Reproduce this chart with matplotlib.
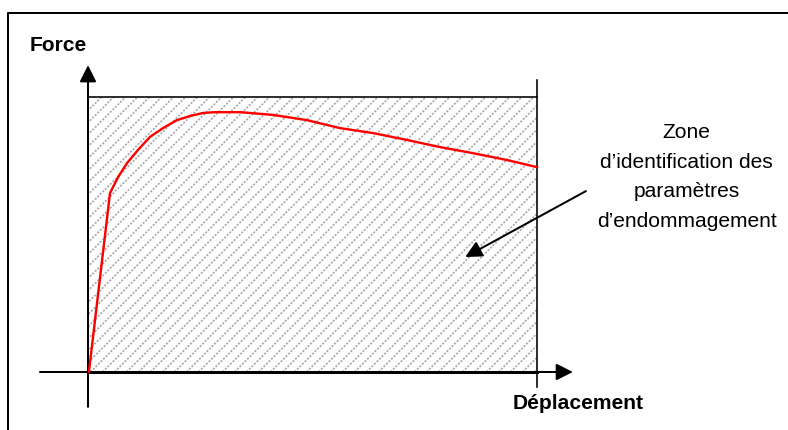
import numpy as np
import matplotlib.pyplot as plt
from matplotlib.patches import Rectangle
from matplotlib.lines import Line2D
from matplotlib.collections import LineCollection

plt.rcParams['font.family'] = ['Liberation Sans', 'DejaVu Sans']

# force-displacement curve, normalised to the identification window (0..1)
displacement = [0.002, 0.049, 0.067, 0.087, 0.111, 0.138, 0.167, 0.198, 0.227,
                0.256, 0.283, 0.339, 0.412, 0.488, 0.561, 0.635, 0.710,
                0.784, 0.857, 0.933, 1.0]
force = [0.0, 0.651, 0.709, 0.760, 0.807, 0.855, 0.887, 0.916, 0.931,
         0.942, 0.945, 0.945, 0.935, 0.916, 0.887, 0.869, 0.844,
         0.818, 0.796, 0.771, 0.745]

x_label = "Force"
y_label = "Déplacement"
zone_label = "Zone\nd’identification des\nparamètres\nd’endommagement"

W, H = 788, 430
fig = plt.figure(figsize=(W / 72, H / 72), dpi=72)
ax = fig.add_axes([0, 0, 1, 1])
ax.set_xlim(-0.196, 1.559)
ax.set_ylim(-0.211, 1.353)
ax.axis("off")

# frame around the sketch (only top and left edges fall inside the figure)
fig.add_artist(Line2D([8 / W, 8 / W, 1.0], [0.0, 1 - 13 / H, 1 - 13 / H],
                      color="black", lw=2, transform=fig.transFigure))

# hatched identification window: 45 degree stripes every 12 px
sx, sy = 449.0, 275.0  # pixels per data unit
window = Rectangle((0, 0), 1, 1, facecolor="white", edgecolor="none", zorder=1)
ax.add_patch(window)
offsets = np.arange(-sy / sx - 0.05, 1.05, 12 / sx)
segs = [[(c, 0), (c + sy / sx, 1.0)] for c in offsets]
hatch = LineCollection(segs, colors="#a9a9a9", linewidths=1.7,
                       linestyles=(0, (1.2, 0.9)), zorder=2)
ax.add_collection(hatch)
hatch.set_clip_path(window)

ax.plot([0, 1], [1, 1], color="black", lw=1.6, zorder=3)
ax.plot([0, 1], [0, 0], color="black", lw=3, zorder=3)
ax.plot([1, 1], [-0.055, 1.062], color="black", lw=1.6, zorder=3)

# axes with arrow heads
arrow = dict(arrowstyle="-|>,head_length=0.7,head_width=0.35", mutation_scale=20,
             color="black", lw=2, shrinkA=0, shrinkB=0)
ax.annotate("", xy=(0, 1.116), xytext=(0, -0.127), arrowprops=arrow, zorder=4)
ax.annotate("", xy=(1.080, 0), xytext=(-0.107, 0), arrowprops=arrow, zorder=4)

# curve
ax.plot(displacement, force, color="#ff0000", lw=2.4, zorder=5,
        solid_joinstyle="round")

# labels
ax.text(-0.066, 1.189, x_label, fontsize=21, fontweight="bold", ha="center", va="center")
ax.text(1.091, -0.113, y_label, fontsize=21, fontweight="bold", ha="center", va="center")
ax.text(1.333, 0.709, zone_label, fontsize=21, ha="center", va="center", linespacing=1.7)

ax.annotate("", xy=(0.840, 0.418), xytext=(1.109, 0.658), arrowprops=arrow, zorder=6)

fig.savefig("out.png", dpi=72, facecolor="white")
